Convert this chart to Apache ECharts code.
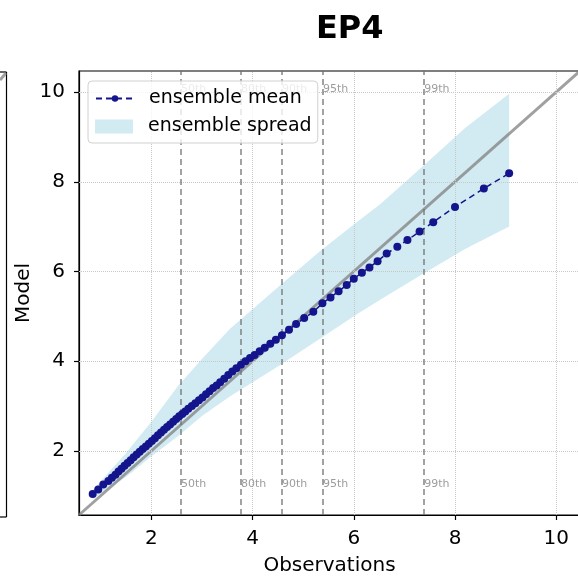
<!DOCTYPE html>
<html>
<head>
<meta charset="utf-8">
<script src="https://cdn.jsdelivr.net/npm/echarts@6/dist/echarts.min.js"></script>
<style>
  html, body { margin: 0; padding: 0; background: #fff; }
  #chart { width: 578px; height: 576px; }
</style>
</head>
<body>
<div id="chart"></div>
<script>
// Quantile-quantile comparison: observed quantiles vs. ensemble-mean model quantiles
const obsQuantiles = [
  0.84, 0.95, 1.05, 1.15, 1.22, 1.29, 1.35, 1.41, 1.47, 1.53,
  1.59, 1.65, 1.71, 1.77, 1.83, 1.89, 1.95, 2.01, 2.07, 2.13,
  2.19, 2.25, 2.31, 2.37, 2.43, 2.49, 2.55, 2.61, 2.67, 2.73,
  2.80, 2.87, 2.94, 3.01, 3.08, 3.15, 3.22, 3.29, 3.36, 3.44,
  3.52, 3.60, 3.68, 3.77, 3.86, 3.95, 4.04, 4.14, 4.24, 4.35,
  4.46, 4.58, 4.72, 4.86, 5.02, 5.20, 5.38, 5.54, 5.70, 5.86,
  6.00, 6.16, 6.31, 6.47, 6.65, 6.86, 7.06, 7.30, 7.57, 8.00,
  8.57, 9.07
];
const meanQuantiles = [
  1.04, 1.14, 1.25, 1.33, 1.40, 1.47, 1.54, 1.60, 1.67, 1.73,
  1.79, 1.86, 1.92, 1.98, 2.04, 2.10, 2.16, 2.22, 2.28, 2.35,
  2.41, 2.47, 2.53, 2.59, 2.65, 2.71, 2.77, 2.82, 2.88, 2.94,
  3.00, 3.06, 3.13, 3.19, 3.26, 3.33, 3.40, 3.46, 3.53, 3.61,
  3.69, 3.77, 3.84, 3.92, 4.00, 4.07, 4.14, 4.22, 4.30, 4.39,
  4.48, 4.58, 4.70, 4.83, 4.96, 5.10, 5.29, 5.42, 5.56, 5.70,
  5.84, 5.97, 6.09, 6.23, 6.40, 6.55, 6.70, 6.89, 7.10, 7.44,
  7.85, 8.19
];

// Ensemble spread envelope (min / max over members)
const spreadX    = [0.84, 1.50, 2.00, 2.53, 3.00, 3.55, 4.50, 5.33, 6.00, 6.52, 7.37, 8.20, 9.07];
const spreadLow  = [0.92, 1.42, 1.88, 2.33, 2.78, 3.21, 3.88, 4.50, 5.00, 5.37, 5.95, 6.50, 7.00];
const spreadHigh = [1.12, 1.95, 2.65, 3.45, 4.05, 4.72, 5.65, 6.45, 7.05, 7.50, 8.35, 9.20, 9.96];

// Observed percentile markers
const pctLabels = ['50th', '80th', '90th', '95th', '99th'];
const pctValues = [2.586, 3.77, 4.58, 5.39, 7.39];

const axisMin = 0.57, axisMax = 10.47;
const tickValues = [2, 4, 6, 8, 10];

const FONT = 'DejaVu Sans';
const bandColor = 'rgba(173,216,230,0.55)';
const meanColor = '#14148c';

const span = axisMax - axisMin;
const labelTopY = axisMax - 0.04 * span;
const labelBottomY = axisMin + 0.07 * span;
const pctLabelData = [];
pctValues.forEach((v, i) => {
  pctLabelData.push({ value: [v, labelTopY], name: pctLabels[i] });
  pctLabelData.push({ value: [v, labelBottomY], name: pctLabels[i] });
});

const chart = echarts.init(document.getElementById('chart'), null, { renderer: 'canvas' });

const axisCommon = {
  type: 'value',
  min: axisMin,
  max: axisMax,
  interval: 2,
  nameMoveOverlap: false,
  axisLine: { show: true, onZero: false, lineStyle: { color: '#000', width: 1.2 } },
  axisTick: {
    show: true, length: 5, lineStyle: { color: '#000', width: 1.2 },
    customValues: tickValues
  },
  axisLabel: {
    color: '#000', fontSize: 20, fontFamily: FONT,
    customValues: tickValues
  },
  splitLine: { show: false },
  nameTextStyle: { color: '#000', fontSize: 20, fontFamily: FONT }
};

const legendText = { fontFamily: FONT, fontSize: 19, color: '#000', padding: [0, 0, 0, 10] };

chart.setOption({
  animation: false,
  backgroundColor: '#fff',
  title: {
    text: 'EP4',
    left: 311,
    top: 9,
    textStyle: { fontFamily: FONT, fontSize: 32, fontWeight: 'bold', color: '#000' }
  },
  grid: {
    left: 79, top: 71, right: -2, bottom: 61,
    outerBoundsMode: 'none',
    containLabel: false,
    show: true, borderColor: '#000', borderWidth: 1.2, backgroundColor: 'transparent'
  },
  legend: [
    {
      // framed legend box, first entry
      orient: 'vertical',
      left: 88, top: 81, z: 10,
      padding: [8, 16, 35, 7],
      itemWidth: 38, itemHeight: 8,
      backgroundColor: 'rgba(255,255,255,0.8)',
      borderColor: '#d0d0d0', borderWidth: 1, borderRadius: 4,
      textStyle: legendText,
      data: [{ name: 'ensemble mean' }]
    },
    {
      // second entry, inside the same box
      orient: 'vertical',
      left: 95, top: 117, z: 11,
      padding: 0,
      itemWidth: 38, itemHeight: 14,
      textStyle: legendText,
      data: [{ name: 'ensemble spread', icon: 'rect' }]
    }
  ],
  xAxis: Object.assign({}, axisCommon, {
    name: 'Observations', nameLocation: 'middle', nameGap: 41,
    axisLabel: Object.assign({}, axisCommon.axisLabel, { margin: 14 })
  }),
  yAxis: Object.assign({}, axisCommon, {
    name: 'Model', nameLocation: 'middle', nameGap: 45,
    axisLabel: Object.assign({}, axisCommon.axisLabel, { margin: 14 })
  }),
  series: [
    // dotted grid lines at the major ticks
    {
      type: 'line', silent: true, data: [], z: 1,
      markLine: {
        silent: true, symbol: 'none', label: { show: false },
        lineStyle: { color: '#c8c8c8', type: 'dotted', width: 1 },
        data: tickValues.map(v => ({ xAxis: v })).concat(tickValues.map(v => ({ yAxis: v })))
      }
    },
    // ensemble spread envelope
    {
      name: 'ensemble spread',
      type: 'custom',
      z: 2,
      itemStyle: { color: bandColor },
      data: [[spreadX[0], spreadLow[0]]],
      renderItem: function (params, api) {
        const pts = [];
        for (let i = 0; i < spreadX.length; i++) pts.push(api.coord([spreadX[i], spreadHigh[i]]));
        for (let i = spreadX.length - 1; i >= 0; i--) pts.push(api.coord([spreadX[i], spreadLow[i]]));
        return { type: 'polygon', shape: { points: pts }, style: { fill: bandColor } };
      },
      clip: true
    },
    // 1:1 reference line
    {
      type: 'line', silent: true, z: 3,
      data: [[axisMin, axisMin], [axisMax, axisMax]],
      symbol: 'none',
      lineStyle: { color: 'rgba(128,128,128,0.75)', width: 3 }
    },
    // percentile markers
    {
      type: 'line', silent: true, data: [], z: 4,
      markLine: {
        silent: true, symbol: 'none', label: { show: false },
        lineStyle: { color: 'rgba(110,110,110,0.85)', type: [6, 4], width: 1.5 },
        data: pctValues.map(v => ({ xAxis: v }))
      }
    },
    {
      type: 'scatter', silent: true, z: 5,
      symbolSize: 0,
      data: pctLabelData,
      label: {
        show: true, position: 'right', distance: 0,
        formatter: p => p.name,
        fontFamily: FONT, fontSize: 11, color: 'rgba(110,110,110,0.85)'
      }
    },
    // ensemble mean quantiles
    {
      name: 'ensemble mean',
      type: 'line', z: 6,
      data: obsQuantiles.map((x, i) => [x, meanQuantiles[i]]),
      symbol: 'circle', symbolSize: 8,
      showAllSymbol: true,
      itemStyle: { color: meanColor },
      lineStyle: { color: meanColor, width: 1.5, type: [6, 4] }
    }
  ],
  graphic: [
    // edge of the neighbouring panel
    { type: 'line', shape: { x1: 6.5, y1: 72, x2: 6.5, y2: 517 }, style: { stroke: '#000', lineWidth: 1.2 } },
    { type: 'line', shape: { x1: 0, y1: 72, x2: 6.5, y2: 72 }, style: { stroke: '#000', lineWidth: 1.2 } },
    { type: 'line', shape: { x1: 0, y1: 517, x2: 6.5, y2: 517 }, style: { stroke: '#000', lineWidth: 1.2 } },
    { type: 'line', shape: { x1: 0, y1: 80, x2: 6, y2: 73 }, style: { stroke: 'rgba(128,128,128,0.75)', lineWidth: 3 } }
  ]
});
</script>
</body>
</html>
